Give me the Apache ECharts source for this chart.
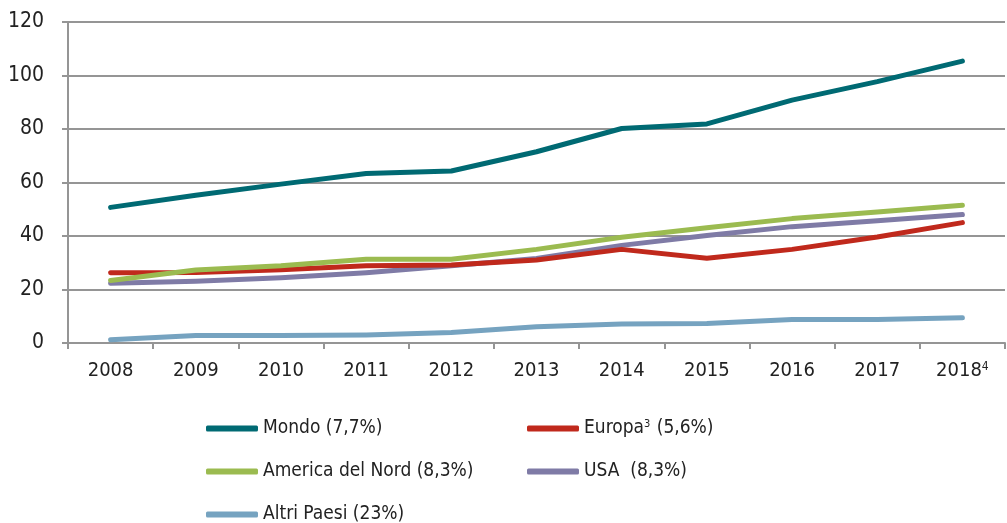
<!DOCTYPE html>
<html>
<head>
<meta charset="utf-8">
<script src="https://cdn.jsdelivr.net/npm/echarts@6/dist/echarts.min.js"></script>
<style>
  html, body { margin: 0; padding: 0; background: #fff; }
  #main { width: 1007px; height: 523px; }
</style>
</head>
<body>
<div id="main"></div>
<script>
// anni
const years = ['2008', '2009', '2010', '2011', '2012', '2013', '2014', '2015', '2016', '2017', '2018'];
// serie
const mondo = [50.7, 55.2, 59.4, 63.4, 64.3, 71.5, 80.2, 81.9, 90.8, 97.7, 105.4];
const europa = [26.3, 26.4, 27.4, 28.9, 29.2, 31.0, 35.0, 31.7, 35.0, 39.6, 45.0];
const americaNord = [23.4, 27.3, 28.9, 31.3, 31.3, 35.0, 39.5, 43.1, 46.5, 49.0, 51.5];
const usa = [22.3, 23.1, 24.4, 26.3, 28.9, 31.6, 36.5, 40.2, 43.5, 45.7, 48.0];
const altriPaesi = [1.2, 2.8, 2.8, 3.0, 3.9, 6.1, 7.1, 7.3, 8.8, 8.8, 9.4];
const yTicks = [0, 20, 40, 60, 80, 100, 120];

const font = "'Liberation Sans Narrow', 'DejaVu Sans Condensed', 'Roboto', sans-serif";
const grey = '#959595';

const legendNames = {
  'Mondo': 'Mondo (7,7%)',
  'Europa': 'Europa{sup|3} (5,6%)',
  'America del Nord': 'America del Nord (8,3%)',
  'USA': 'USA  (8,3%)',
  'Altri Paesi': 'Altri Paesi (23%)'
};

function mkSeries(name, data, color) {
  return {
    name: name,
    type: 'line',
    data: data,
    showSymbol: false,
    symbol: 'none',
    itemStyle: { color: color },
    lineStyle: { width: 5, color: color, cap: 'round', join: 'round' },
    emphasis: { disabled: true }
  };
}

function legendBox(left, names) {
  return {
    left: left,
    top: 414,
    height: 150,
    orient: 'vertical',
    data: names,
    icon: 'roundRect',
    itemWidth: 52,
    itemHeight: 6,
    itemGap: 24,
    selectedMode: false,
    formatter: n => legendNames[n],
    textStyle: {
      fontFamily: font,
      fontSize: 19,
      color: '#222',
      rich: { sup: { fontFamily: font, fontSize: 11, verticalAlign: 'top', padding: [0, 1, 8, 0], color: '#222' } }
    }
  };
}

let myChart = echarts.init(document.getElementById('main'));
let option = {
  animation: false,
  grid: { left: 68, right: 2, top: 22, bottom: 180 },
  legend: [
    legendBox(201, ['Mondo', 'America del Nord', 'Altri Paesi']),
    legendBox(522, ['Europa', 'USA'])
  ],
  xAxis: {
    type: 'category',
    data: years,
    boundaryGap: true,
    axisLine: { lineStyle: { color: grey, width: 2 } },
    axisTick: { show: true, interval: 0, length: 6, lineStyle: { color: grey, width: 2 } },
    axisLabel: {
      interval: 0,
      margin: 18,
      fontFamily: font,
      fontSize: 20,
      color: '#222',
      formatter: v => v === '2018' ? '2018{sup|4}' : v,
      rich: { sup: { fontFamily: font, fontSize: 12, verticalAlign: 'top', padding: [0, 0, 8, 0], color: '#222' } }
    }
  },
  yAxis: {
    type: 'value',
    min: yTicks[0],
    max: yTicks[yTicks.length - 1],
    interval: 20,
    axisLine: { show: true, lineStyle: { color: grey, width: 2 } },
    axisTick: { show: true, length: 6, lineStyle: { color: grey, width: 2 } },
    axisLabel: { margin: 24, fontFamily: font, fontSize: 21, color: '#222' },
    splitLine: { lineStyle: { color: grey, width: 2 } }
  },
  series: [
    mkSeries('Altri Paesi', altriPaesi, '#76A3C0'),
    mkSeries('USA', usa, '#7F7BA6'),
    mkSeries('Europa', europa, '#C0291C'),
    mkSeries('America del Nord', americaNord, '#9BBB50'),
    mkSeries('Mondo', mondo, '#006A73')
  ]
};
myChart.setOption(option);
</script>
</body>
</html>
